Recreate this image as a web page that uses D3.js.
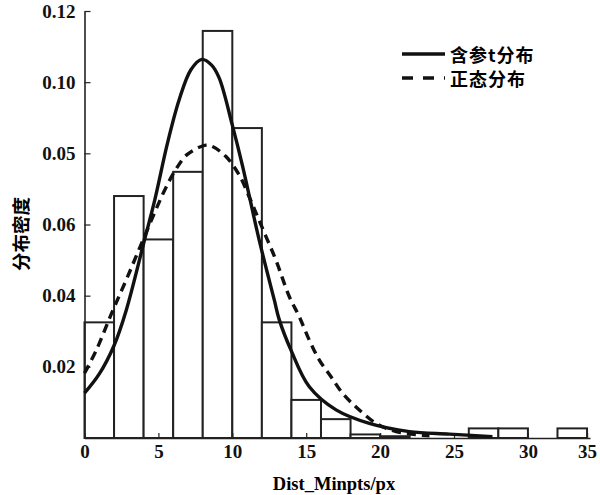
<!DOCTYPE html>
<html>
<head>
<meta charset="utf-8">
<script src="https://cdn.jsdelivr.net/npm/d3@7"></script>
<style>
  body { margin: 0; background: #fff; }
  svg { display: block; }
</style>
</head>
<body>
<div id="chart"></div>
<script>
// chart size
const FRAME_WIDTH = 600;
const FRAME_HEIGHT = 495;

// histogram: bins of width 2 starting at 0
const BIN_WIDTH = 2;
const binStarts = [0, 2, 4, 6, 8, 10, 12, 14, 16, 18, 20, 22, 24, 26, 28, 30, 32];
const binDensity = [0.0325, 0.068, 0.0558, 0.0748, 0.1144, 0.0871, 0.0325, 0.0107,
                    0.0053, 0.001, 0.0005, 0, 0, 0.0027, 0.0027, 0, 0.0027];

// fitted t distribution
const tX = [0, 1, 2, 2.83, 4.08, 4.76, 5.61, 6.40, 7.2, 7.94, 8.6, 9.11, 10.01, 10.69, 11.82,
            12.84, 13.18, 13.97, 15.21, 17.02, 19.27, 21.98, 24.69, 27.6];
const tY = [0.0126, 0.018, 0.026, 0.036, 0.056, 0.067, 0.0828, 0.095, 0.1035, 0.1064, 0.1048,
            0.1012, 0.0878, 0.0765, 0.0556, 0.0388, 0.0332, 0.0247, 0.0144, 0.0079, 0.0041,
            0.0018, 0.0011, 0.0004];

// fitted normal distribution
const nX = [0, 0.8, 1.93, 2.83, 3.74, 4.76, 5.43, 6.18, 6.96, 8.21, 8.66, 9.57, 10.47, 11.14,
            11.71, 12.28, 12.95, 13.86, 14.53, 15.21, 15.89, 16.68, 17.47, 18.48, 19.73,
            21.08, 23.34];
const nY = [0.0182, 0.0247, 0.036, 0.0445, 0.0535, 0.0635, 0.0697, 0.0755, 0.0797, 0.0823,
            0.0819, 0.0791, 0.0739, 0.0678, 0.0622, 0.0566, 0.05, 0.0397, 0.0341, 0.0275,
            0.0219, 0.0172, 0.0125, 0.0083, 0.0041, 0.0018, 0.0006];

// axis ticks as printed in the figure
const xTickPos = [0, 5, 10, 15, 20, 25, 30, 34];
const xTickLabels = ["0", "5", "10", "15", "20", "25", "30", "35"];
const yTickPos = [0.02, 0.04, 0.06, 0.08, 0.10, 0.12];
const yTickLabels = ["0.02", "0.04", "0.06", "0.05", "0.10", "0.12"];

const legendNames = ["含参t分布", "正态分布"];

const svg = d3.select('#chart')
  .append('svg')
  .attr('width', FRAME_WIDTH)
  .attr('height', FRAME_HEIGHT);

const x = d3.scaleLinear().domain([0, 34.2]).range([84.5, 590]);
const y = d3.scaleLinear().domain([0, 0.12]).range([438, 11]);

// bars
svg.append('g')
  .selectAll('rect')
  .data(binStarts.map((s, i) => ({ s: s, v: binDensity[i] })).filter(d => d.v > 0))
  .enter()
  .append('rect')
  .attr('x', d => x(d.s))
  .attr('y', d => y(d.v))
  .attr('width', d => x(d.s + BIN_WIDTH) - x(d.s))
  .attr('height', d => y(0) - y(d.v))
  .attr('fill', '#fff')
  .attr('stroke', '#222')
  .attr('stroke-width', 2);

// axes
const AXIS_FONT = '"Liberation Serif", "DejaVu Serif", serif';

const xAxis = svg.append('g')
  .attr('transform', `translate(0, ${y(0)})`)
  .call(d3.axisBottom(x)
    .tickValues(xTickPos)
    .tickFormat((d, i) => xTickLabels[i])
    .tickSizeInner(-5)
    .tickSizeOuter(0)
    .tickPadding(7));

const yAxis = svg.append('g')
  .attr('transform', `translate(${x(0)}, 0)`)
  .call(d3.axisLeft(y)
    .tickValues(yTickPos)
    .tickFormat((d, i) => yTickLabels[i])
    .tickSizeInner(-6)
    .tickSizeOuter(0)
    .tickPadding(9));

[xAxis, yAxis].forEach(g => {
  g.select('.domain').attr('stroke', '#222').attr('stroke-width', 1.6);
  g.selectAll('.tick line').attr('stroke', '#222').attr('stroke-width', 1.2);
  g.selectAll('.tick text')
    .attr('fill', '#111')
    .style('font-family', AXIS_FONT)
    .style('font-weight', 'bold')
    .style('font-size', '19px');
});

// curves
const line = d3.line()
  .x(d => x(d[0]))
  .y(d => y(d[1]))
  .curve(d3.curveCatmullRom.alpha(0.5));

svg.append('path')
  .datum(nX.map((v, i) => [v, nY[i]]))
  .attr('fill', 'none')
  .attr('stroke', '#111')
  .attr('stroke-width', 3.4)
  .attr('stroke-dasharray', '9,6')
  .attr('d', line);

svg.append('path')
  .datum(tX.map((v, i) => [v, tY[i]]))
  .attr('fill', 'none')
  .attr('stroke', '#111')
  .attr('stroke-width', 3.4)
  .attr('d', line);

// axis titles
svg.append('text')
  .attr('x', 334)
  .attr('y', 490)
  .attr('text-anchor', 'middle')
  .style('font-family', AXIS_FONT)
  .style('font-weight', 'bold')
  .style('font-size', '18.5px')
  .text('Dist_Minpts/px');

svg.append('text')
  .attr('transform', 'translate(20, 234) rotate(-90)')
  .attr('text-anchor', 'middle')
  .attr('dominant-baseline', 'central')
  .style('font-family', '"Noto Sans CJK SC"')
  .style('font-weight', 'bold')
  .style('font-size', '18.5px')
  .text('分布密度');

// legend
const legend = svg.append('g').attr('transform', 'translate(402, 54)');
legendNames.forEach((name, i) => {
  legend.append('line')
    .attr('x1', 0).attr('x2', 43)
    .attr('y1', i * 24).attr('y2', i * 24)
    .attr('stroke', '#111')
    .attr('stroke-width', 3.4)
    .attr('stroke-dasharray', i === 0 ? null : '11,10');
  legend.append('text')
    .attr('x', 48)
    .attr('y', i * 24)
    .attr('dominant-baseline', 'central')
    .style('font-family', '"Noto Sans CJK SC"')
    .style('font-weight', 'bold')
    .style('font-size', '18px')
    .style('letter-spacing', '1px')
    .text(name);
});
</script>
</body>
</html>
